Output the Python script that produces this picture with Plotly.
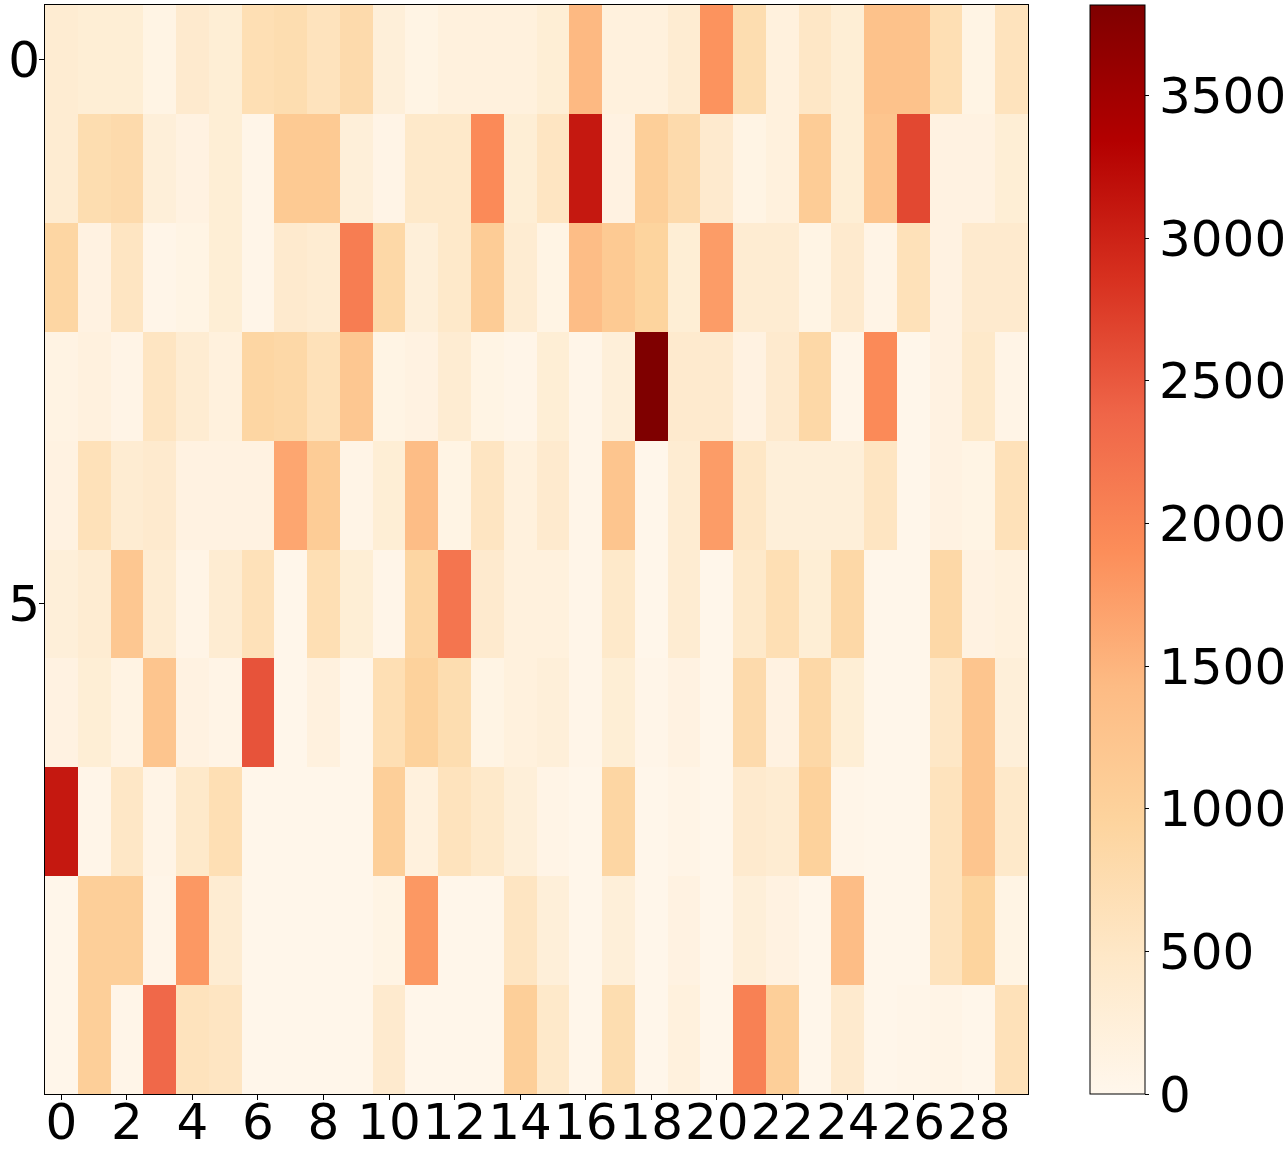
import plotly.graph_objects as go

# column and row indices
cols = list(range(30))
rows = list(range(10))

# cell values, one list per row
row0 = [350, 300, 300, 100, 400, 300, 700, 750, 600, 800, 250, 100, 200, 200, 200,
        300, 1450, 200, 200, 350, 1850, 750, 200, 500, 300, 1300, 1300, 700, 100, 600]
row1 = [350, 750, 800, 250, 150, 300, 50, 1150, 1150, 250, 80, 450, 450, 1950, 300,
        550, 3100, 150, 1050, 800, 400, 100, 200, 1100, 300, 1250, 2650, 150, 150, 300]
row2 = [900, 150, 550, 50, 100, 300, 50, 400, 350, 2100, 850, 250, 450, 1100, 350,
        100, 1400, 1150, 950, 300, 1750, 350, 350, 100, 400, 80, 650, 150, 400, 400]
row3 = [120, 180, 80, 550, 350, 200, 900, 850, 650, 1200, 100, 150, 350, 100, 50,
        300, 50, 250, 3818, 400, 400, 150, 400, 850, 50, 1950, 20, 150, 450, 80]
row4 = [150, 650, 350, 400, 150, 150, 150, 1650, 1100, 80, 300, 1400, 100, 550, 200,
        400, 50, 1250, 30, 350, 1750, 500, 250, 250, 250, 550, 30, 150, 100, 650]
row5 = [250, 350, 1200, 350, 80, 350, 650, 30, 700, 300, 50, 900, 2200, 400, 200,
        200, 50, 450, 30, 350, 30, 450, 700, 300, 850, 30, 30, 850, 150, 200]
row6 = [150, 300, 120, 1250, 150, 80, 2550, 30, 180, 30, 700, 1000, 750, 100, 200,
        250, 50, 300, 50, 150, 30, 800, 150, 850, 300, 30, 30, 500, 1250, 250]
row7 = [3100, 50, 500, 80, 450, 700, 30, 30, 30, 30, 1050, 200, 600, 450, 250,
        80, 30, 900, 30, 80, 30, 400, 350, 1000, 50, 30, 30, 600, 1250, 450]
row8 = [30, 1050, 1050, 50, 1800, 350, 30, 30, 30, 30, 100, 1800, 30, 30, 550,
        250, 30, 250, 30, 150, 30, 250, 150, 30, 1400, 30, 30, 600, 950, 100]
row9 = [30, 1050, 50, 2350, 600, 550, 30, 30, 30, 30, 400, 30, 30, 30, 1050,
        450, 30, 750, 30, 200, 30, 2050, 1050, 30, 400, 30, 50, 80, 30, 650]

x_ticks = list(range(0, 30, 2))
y_ticks = [0, 5]
cbar_ticks = [0, 500, 1000, 1500, 2000, 2500, 3000, 3500]

z = [row0, row1, row2, row3, row4, row5, row6, row7, row8, row9]

fig = go.Figure(go.Heatmap(
    z=z,
    x=cols,
    y=rows,
    colorscale="OrRd",
    zmin=0,
    zmax=max(max(r) for r in z),
    colorbar=dict(
        x=1.063, xanchor="left", xpad=0, y=0.5, yanchor="middle",
        len=1, lenmode="fraction", ypad=0,
        thickness=55, outlinewidth=1, outlinecolor="black",
        tickvals=cbar_ticks, ticks="outside", ticklen=4, tickcolor="black",
        tickfont=dict(size=50, color="black"),
    ),
))

axis_style = dict(
    showline=True, linecolor="black", linewidth=1, mirror=True,
    ticks="outside", ticklen=5, tickcolor="black",
    showgrid=False, zeroline=False, tickangle=0,
    tickfont=dict(size=50, color="black"),
)

fig.update_xaxes(tickvals=x_ticks, range=[-0.5, 29.5], ticklabelstandoff=-21, **axis_style)
fig.update_yaxes(tickvals=y_ticks, range=[9.5, -0.5], ticklabelstandoff=-11, **axis_style)

fig.update_layout(
    width=1285, height=1156,
    margin=dict(l=45, r=257, t=5, b=62, autoexpand=False),
    plot_bgcolor="white", paper_bgcolor="white",
    font=dict(family="DejaVu Sans", color="black"),
)

fig.write_html("out.html", config={"displayModeBar": False},
               post_script="document.body.style.margin='0';")
